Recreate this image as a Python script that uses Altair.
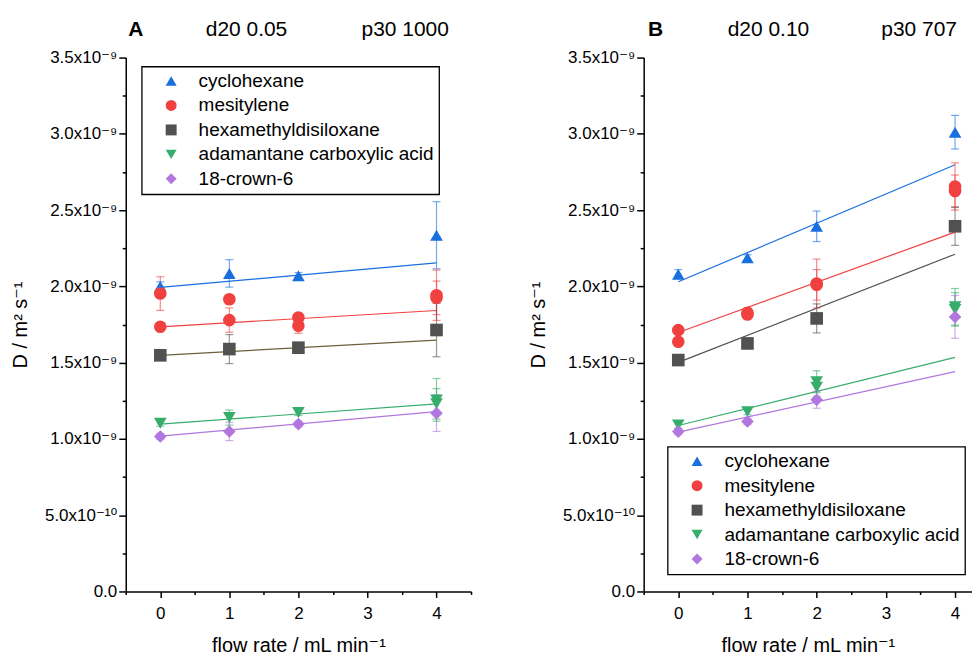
import altair as alt
import pandas as pd

FONT = "Liberation Sans, Arial, DejaVu Sans"

compounds = ["cyclohexane", "mesitylene", "hexamethyldisiloxane",
             "adamantane carboxylic acid", "18-crown-6"]
colors = ["#1A6FDF", "#F14040", "#515151", "#37AD6B", "#B177DE"]
shapes = ["triangle-up", "circle", "square", "triangle-down", "diamond"]

# D values in units of 1e-9 m^2 s^-1 ; flow rate in mL/min
# ---- Panel A (d20 0.05, p30 1000)
a_cyc_x = [0, 1, 2, 4]
a_cyc_y = [2.00, 2.085, 2.07, 2.335]
a_cyc_e = [0.03, 0.09, 0.02, 0.22]

a_mes_x = [0, 0, 1, 1, 2, 2, 4, 4]
a_mes_y = [1.953, 1.735, 1.916, 1.779, 1.796, 1.742, 1.942, 1.925]
a_mes_e = [0.11, 0.02, 0.03, 0.08, 0.02, 0.05, 0.165, 0.11]

a_hex_x = [0, 1, 2, 4]
a_hex_y = [1.548, 1.589, 1.598, 1.714]
a_hex_e = [0.02, 0.095, 0.02, 0.175]

a_ada_x = [0, 1, 2, 4, 4]
a_ada_y = [1.103, 1.140, 1.173, 1.256, 1.230]
a_ada_e = [0.02, 0.05, 0.02, 0.14, 0.10]

a_cro_x = [0, 1, 2, 4]
a_cro_y = [1.016, 1.049, 1.097, 1.169]
a_cro_e = [0.02, 0.06, 0.02, 0.12]

# linear fits, value at flow rate 0 and 4
fit_x = [0, 4]
a_fit_cyc = [1.993, 2.154]
a_fit_mes = [1.735, 1.842]
a_fit_hex = [1.548, 1.648]
a_fit_ada = [1.097, 1.230]
a_fit_cro = [1.018, 1.179]

# ---- Panel B (d20 0.10, p30 707)
b_cyc_x = [0, 1, 2, 4]
b_cyc_y = [2.080, 2.187, 2.394, 3.011]
b_cyc_e = [0.03, 0.02, 0.10, 0.11]

b_mes_x = [0, 0, 1, 1, 2, 2, 4, 4]
b_mes_y = [1.713, 1.637, 1.827, 1.816, 2.019, 2.010, 2.655, 2.625]
b_mes_e = [0.02, 0.02, 0.03, 0.03, 0.16, 0.10, 0.155, 0.105]

b_hex_x = [0, 1, 2, 4]
b_hex_y = [1.517, 1.626, 1.790, 2.394]
b_hex_e = [0.03, 0.03, 0.095, 0.125]

b_ada_x = [0, 1, 2, 2, 4, 4]
b_ada_y = [1.092, 1.179, 1.375, 1.339, 1.866, 1.849]
b_ada_e = [0.02, 0.02, 0.072, 0.06, 0.12, 0.11]

b_cro_x = [0, 1, 2, 4]
b_cro_y = [1.048, 1.114, 1.256, 1.800]
b_cro_e = [0.02, 0.02, 0.055, 0.14]

b_fit_cyc = [2.030, 2.797]
b_fit_mes = [1.698, 2.356]
b_fit_hex = [1.502, 2.211]
b_fit_ada = [1.088, 1.535]
b_fit_cro = [1.044, 1.441]

line_colors_a = ["#1A6FDF", "#F14040", "#6B5F3C", "#37AD6B", "#B177DE"]
line_colors_b = colors

x_major = [0, 1, 2, 3, 4]
y_major = [0, 0.5, 1.0, 1.5, 2.0, 2.5, 3.0, 3.5]
y_minor = [0.25, 0.75, 1.25, 1.75, 2.25, 2.75, 3.25]


def points_df(series):
    rows = []
    for (name, xs, ys, es), col in zip(series, colors):
        for x, y, e in zip(xs, ys, es):
            rows.append({"compound": name, "x": x, "y": y, "lo": y - e, "hi": y + e, "c": col})
    return pd.DataFrame(rows)


def fits_df(fits, lcols):
    rows = []
    for (name, ys), lc in zip(fits, lcols):
        for x, y in zip(fit_x, ys):
            rows.append({"compound": name, "x": x, "y": y, "lc": lc})
    return pd.DataFrame(rows)


pts_a = points_df([
    (compounds[0], a_cyc_x, a_cyc_y, a_cyc_e),
    (compounds[1], a_mes_x, a_mes_y, a_mes_e),
    (compounds[2], a_hex_x, a_hex_y, a_hex_e),
    (compounds[3], a_ada_x, a_ada_y, a_ada_e),
    (compounds[4], a_cro_x, a_cro_y, a_cro_e),
])
pts_b = points_df([
    (compounds[0], b_cyc_x, b_cyc_y, b_cyc_e),
    (compounds[1], b_mes_x, b_mes_y, b_mes_e),
    (compounds[2], b_hex_x, b_hex_y, b_hex_e),
    (compounds[3], b_ada_x, b_ada_y, b_ada_e),
    (compounds[4], b_cro_x, b_cro_y, b_cro_e),
])
fit_a = fits_df(list(zip(compounds, [a_fit_cyc, a_fit_mes, a_fit_hex, a_fit_ada, a_fit_cro])), line_colors_a)
fit_b = fits_df(list(zip(compounds, [b_fit_cyc, b_fit_mes, b_fit_hex, b_fit_ada, b_fit_cro])), line_colors_b)

Y_LABEL = ("datum.value == 0 ? '0.0' : datum.value == 0.5 ? '5.0x10\u207b\u00b9\u2070' : "
           "format(datum.value, '.1f') + 'x10\u207b\u2079'")


def panel(pts, fits, width, xmax, x_minor, legend_xy, titles):
    xs = alt.Scale(domain=[-0.5, xmax], nice=False, zero=False)
    ys = alt.Scale(domain=[0, 3.5], nice=False, zero=True)
    x_axis = alt.Axis(values=x_major, format="d", title="flow rate / mL min\u207b\u00b9",
                      orient="bottom", tickSize=6, labelPadding=8, titlePadding=14)
    y_axis = alt.Axis(values=y_major, labelExpr=Y_LABEL, title="D / m\u00b2 s\u207b\u00b9",
                      orient="left", tickSize=7, labelPadding=2, titlePadding=14)
    x_minor_axis = alt.Axis(values=x_minor, labels=False, domain=False, title=None,
                            orient="bottom", tickSize=3)
    y_minor_axis = alt.Axis(values=y_minor, labels=False, domain=False, title=None,
                            orient="left", tickSize=3.5)
    cscale = alt.Scale(domain=compounds, range=colors)

    lines = alt.Chart(fits).mark_line(strokeWidth=1.2, clip=True).encode(
        x=alt.X("x:Q", scale=xs, axis=x_minor_axis),
        y=alt.Y("y:Q", scale=ys, axis=y_minor_axis),
        color=alt.Color("lc:N", scale=None), detail="compound:N")
    bars = alt.Chart(pts).mark_rule(strokeWidth=1.2, opacity=0.6).encode(
        x=alt.X("x:Q", scale=xs, axis=None), y=alt.Y("lo:Q", scale=ys, axis=None), y2="hi:Q",
        color=alt.Color("c:N", scale=None))
    caps_lo = alt.Chart(pts).mark_tick(orient="horizontal", size=8, thickness=1.2, opacity=0.6).encode(
        x=alt.X("x:Q", scale=xs, axis=None), y=alt.Y("lo:Q", scale=ys, axis=None),
        color=alt.Color("c:N", scale=None))
    caps_hi = alt.Chart(pts).mark_tick(orient="horizontal", size=8, thickness=1.2, opacity=0.6).encode(
        x=alt.X("x:Q", scale=xs, axis=None), y=alt.Y("hi:Q", scale=ys, axis=None),
        color=alt.Color("c:N", scale=None))
    legend = alt.Legend(title=None, orient="none", legendX=legend_xy[0], legendY=legend_xy[1])
    points = alt.Chart(pts).mark_point(filled=True, opacity=1, size=160).encode(
        x=alt.X("x:Q", scale=xs, axis=x_axis),
        y=alt.Y("y:Q", scale=ys, axis=y_axis),
        fill=alt.Fill("compound:N", scale=cscale, legend=legend),
        shape=alt.Shape("compound:N", scale=alt.Scale(domain=compounds, range=shapes), legend=legend))
    layers = [lines, bars, caps_lo, caps_hi, points]
    for txt, px, bold in titles:
        layers.append(alt.Chart(pd.DataFrame({"t": [txt]})).mark_text(
            font=FONT, fontSize=21, fontWeight="bold" if bold else "normal", color="black",
            baseline="middle", align="center").encode(
            text="t:N", x=alt.value(px), y=alt.value(-28)))
    return alt.layer(*layers).resolve_axis(x="independent", y="independent").properties(
        width=width, height=535)


xm_a = [-0.5, 0.5, 1.5, 2.5, 3.5, 4.5]
xm_b = [-0.5, 0.5, 1.5, 2.5, 3.5]

pa = panel(pts_a, fit_a, 346, 4.5, xm_a, (16, 9),
           [("A", 10, True), ("d20 0.05", 121, False), ("p30 1000", 280, False)])
pb = panel(pts_b, fit_b, 329, 4.245, xm_b, (24, 390),
           [("B", 12, True), ("d20 0.10", 125, False), ("p30 707", 276, False)])

chart = alt.hconcat(pa, pb, spacing=56).resolve_scale(
    fill="independent", shape="independent"
).resolve_legend(
    fill="independent", shape="independent"
).properties(
    padding={"left": 2, "top": 10, "right": 0, "bottom": 0}
).configure_view(stroke=None).configure_axis(
    grid=False, domainColor="black", domainWidth=1.5, tickColor="black", tickWidth=1.5,
    labelColor="black", labelFont=FONT, labelFontSize=17, titleFont=FONT, titleFontSize=20,
    titleFontWeight="normal", titleColor="black", labelOverlap=False
).configure_legend(
    strokeColor="black", strokeWidth=1.3, padding=5, rowPadding=4.5,
    labelFont=FONT, labelFontSize=19, labelColor="black", labelLimit=400,
    symbolOffset=15, labelOffset=18, fillColor="white", symbolSize=120
)

chart.save("out.html", embed_options={"renderer": "svg", "actions": False})
